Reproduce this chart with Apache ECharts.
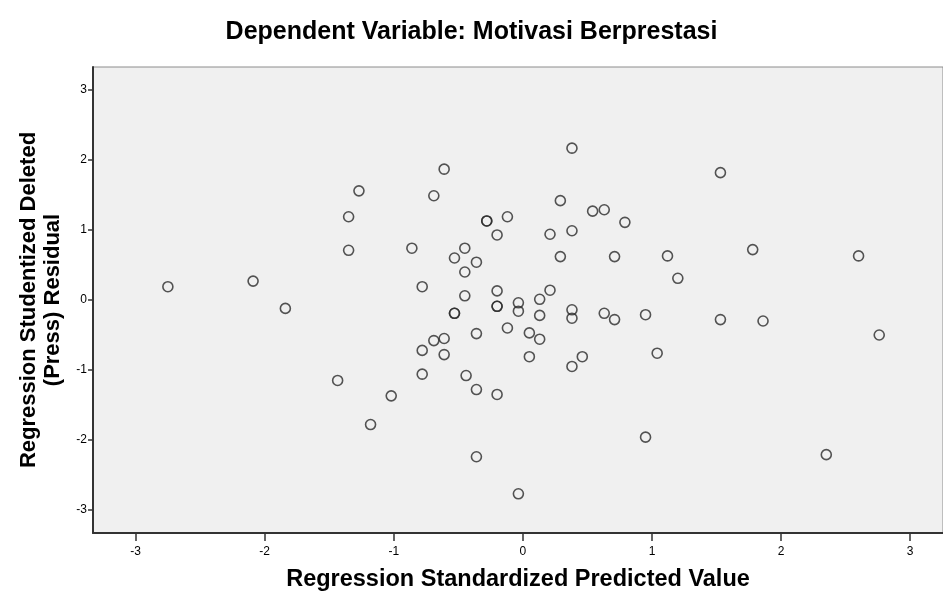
<!DOCTYPE html>
<html><head><meta charset="utf-8">
<script src="https://cdn.jsdelivr.net/npm/echarts@6/dist/echarts.min.js"></script>
<style>html,body{margin:0;padding:0;background:#fff}#c{width:943px;height:608px}</style>
</head><body><div id="c"></div>
<script>
const titleText = 'Dependent Variable: Motivasi Berprestasi';
const xAxisName = 'Regression Standardized Predicted Value';
const yAxisName = 'Regression Studentized Deleted\n(Press) Residual';
const tickValues = [-3, -2, -1, 0, 1, 2, 3];
const predicted = [-2.75,-2.09,-1.84,-1.27,-1.35,-1.35,-1.435,-1.18,-1.02,-0.86,-0.78,-0.78,-0.78,-0.69,-0.61,-0.69,-0.61,-0.61,-0.53,-0.53,-0.53,-0.45,-0.45,-0.45,-0.44,-0.36,-0.36,-0.36,-0.36,-0.28,-0.28,-0.20,-0.20,-0.20,-0.20,-0.20,-0.12,-0.12,-0.035,-0.035,-0.035,0.05,0.05,0.13,0.13,0.13,0.21,0.21,0.29,0.29,0.38,0.38,0.38,0.38,0.38,0.46,0.54,0.63,0.63,0.71,0.71,0.79,0.95,0.95,1.04,1.12,1.20,1.53,1.53,1.78,1.86,2.35,2.60,2.76];
const residual = [0.19,0.27,-0.12,1.56,1.19,0.71,-1.15,-1.78,-1.37,0.74,0.19,-0.72,-1.06,1.49,1.87,-0.58,-0.55,-0.78,0.60,-0.19,-0.19,0.74,0.40,0.06,-1.08,0.54,-0.48,-1.28,-2.24,1.13,1.13,0.93,0.13,-0.09,-0.09,-1.35,1.19,-0.40,-0.04,-0.16,-2.77,-0.47,-0.81,0.01,-0.22,-0.56,0.94,0.14,1.42,0.62,2.17,0.99,-0.14,-0.26,-0.95,-0.81,1.27,1.29,-0.19,0.62,-0.28,1.11,-0.21,-1.96,-0.76,0.63,0.31,1.82,-0.28,0.72,-0.30,-2.21,0.63,-0.50];

const points = predicted.map((x, i) => [x, residual[i]]);
const font = 'Liberation Sans, Arial, sans-serif';
const chart = echarts.init(document.getElementById('c'), null, {renderer: 'canvas'});
chart.setOption({
  animation: false,
  backgroundColor: '#ffffff',
  title: {
    text: titleText, left: 'center', top: 15,
    textStyle: {fontFamily: font, fontSize: 25, fontWeight: 'bold', color: '#000'}
  },
  grid: {
    left: 93, top: 67, right: 0, bottom: 75,
    show: true, backgroundColor: '#f0f0f0', borderColor: '#8c8c8c', borderWidth: 1
  },
  xAxis: {
    type: 'value', min: -3.33, max: 3.254,
    name: xAxisName, nameLocation: 'middle', nameGap: 35,
    nameTextStyle: {fontFamily: font, fontSize: 23.5, fontWeight: 'bold', color: '#000'},
    axisLine: {show: true, onZero: false, lineStyle: {color: '#333', width: 2}},
    axisTick: {show: true, length: 8, customValues: tickValues, lineStyle: {color: '#333', width: 1.5}},
    axisLabel: {customValues: tickValues, fontFamily: font, fontSize: 12, color: '#000', margin: 13},
    splitLine: {show: false}
  },
  yAxis: {
    type: 'value', min: -3.33, max: 3.33,
    name: yAxisName, nameLocation: 'middle', nameGap: 28, nameRotate: 90,
    nameTextStyle: {fontFamily: font, fontSize: 22, fontWeight: 'bold', color: '#000', lineHeight: 24},
    axisLine: {show: true, onZero: false, lineStyle: {color: '#333', width: 2}},
    axisTick: {show: true, length: 5, customValues: tickValues, lineStyle: {color: '#333', width: 1.5}},
    axisLabel: {customValues: tickValues, fontFamily: font, fontSize: 12, color: '#000', margin: 6},
    splitLine: {show: false}
  },
  series: [{
    type: 'scatter', data: points, symbol: 'circle', symbolSize: 10,
    itemStyle: {color: 'rgba(0,0,0,0)', borderColor: '#2a2a2a', borderWidth: 1.6}
  }]
});
</script></body></html>
